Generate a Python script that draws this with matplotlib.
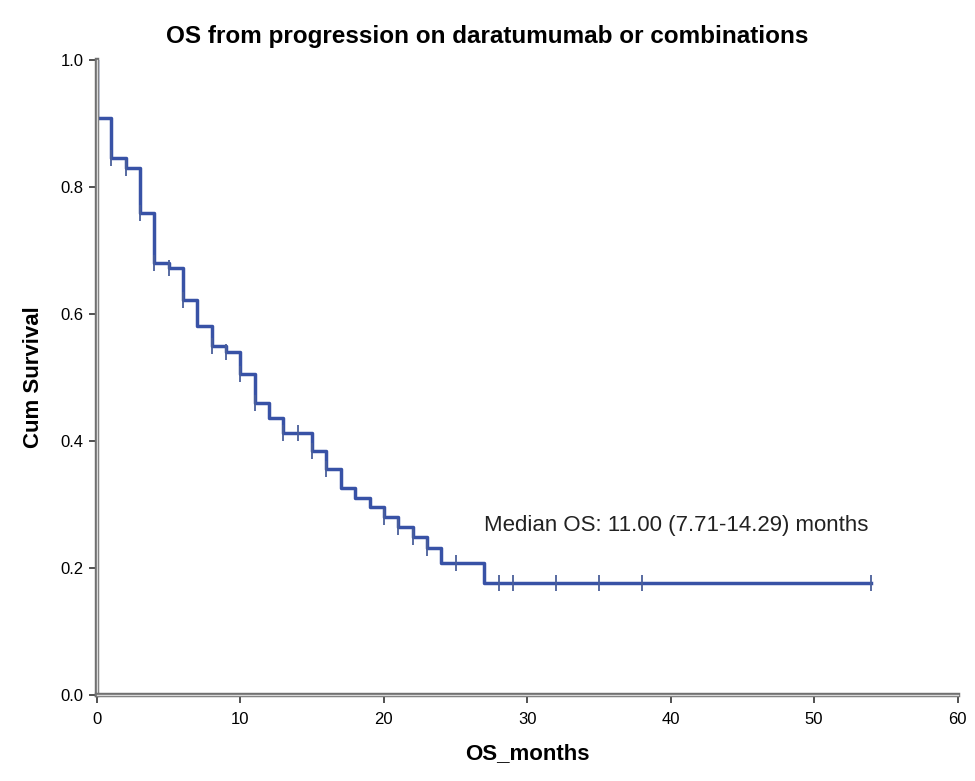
import matplotlib
matplotlib.use('Agg')
import matplotlib.pyplot as plt
import matplotlib.patheffects as pe

plt.rcParams['font.family'] = ['Liberation Sans', 'DejaVu Sans']

# event times (months) and survival after each step
step_times = [0, 0, 1, 2, 3, 4, 5, 6, 7, 8, 9, 10, 11, 12, 13, 15, 16, 17, 18,
              19, 20, 21, 22, 23, 24, 27]
step_surv = [1.0, 0.909, 0.846, 0.830, 0.759, 0.680, 0.672, 0.622, 0.581, 0.550,
             0.540, 0.506, 0.460, 0.436, 0.413, 0.384, 0.356, 0.326, 0.310,
             0.296, 0.280, 0.265, 0.249, 0.231, 0.208, 0.176]
end_time = 54

# censored observations
censor_times = [1, 2, 3, 4, 5, 6, 8, 9, 10, 11, 13, 14, 15, 16, 20, 21, 22, 23,
                25, 28, 29, 32, 35, 38, 54]

title = 'OS from progression on daratumumab or combinations'
median_text = 'Median OS: 11.00 (7.71-14.29) months'


def surv_at(t):
    s = 1.0
    for tt, ss in zip(step_times, step_surv):
        if tt <= t:
            s = ss
    return s


def main():
    fig = plt.figure(figsize=(9.75, 7.81), dpi=100)
    ax = fig.add_axes([0.0995, 0.110, 0.8826, 0.813])

    xs = step_times + [end_time]
    ys = step_surv + [step_surv[-1]]
    ax.step(xs, ys, where='post', color='#3852a6', lw=2.5, zorder=3)

    cy = [surv_at(t) for t in censor_times]
    ax.plot(censor_times, cy, ls='none', marker='|', ms=12, mew=1.3,
            color='#4a5f9a', zorder=4)

    ax.set_xlim(0, 60)
    ax.set_ylim(0, 1.0)
    ax.set_xticks(range(0, 61, 10))
    ax.set_yticks([0.0, 0.2, 0.4, 0.6, 0.8, 1.0])
    ax.set_yticklabels(['0.0', '0.2', '0.4', '0.6', '0.8', '1.0'])
    ax.tick_params(direction='out', length=6, width=1.2, colors='#333333',
                   labelsize=12, labelcolor='black')
    ax.tick_params(axis='x', pad=6)

    for side in ['top', 'right']:
        ax.spines[side].set_visible(False)
    for side in ['left', 'bottom']:
        sp = ax.spines[side]
        sp.set_color('#d8d8d8')
        sp.set_linewidth(1.0)
        sp.set_path_effects([pe.Stroke(linewidth=3.2, foreground='#707070'),
                             pe.Normal()])
        sp.set_zorder(5)

    ax.set_xlabel('OS_months', fontsize=16, fontweight='bold', labelpad=12)
    ax.set_ylabel('Cum Survival', fontsize=16, fontweight='bold', labelpad=12)
    fig.suptitle(title, fontsize=17.5, fontweight='bold', x=0.5, y=0.953,
                 va='center')

    ax.text(27.0, 0.267, median_text, fontsize=16, va='center', ha='left',
            color='#222222')

    fig.savefig('out.png', dpi=100)


if __name__ == "__main__":
    main()
